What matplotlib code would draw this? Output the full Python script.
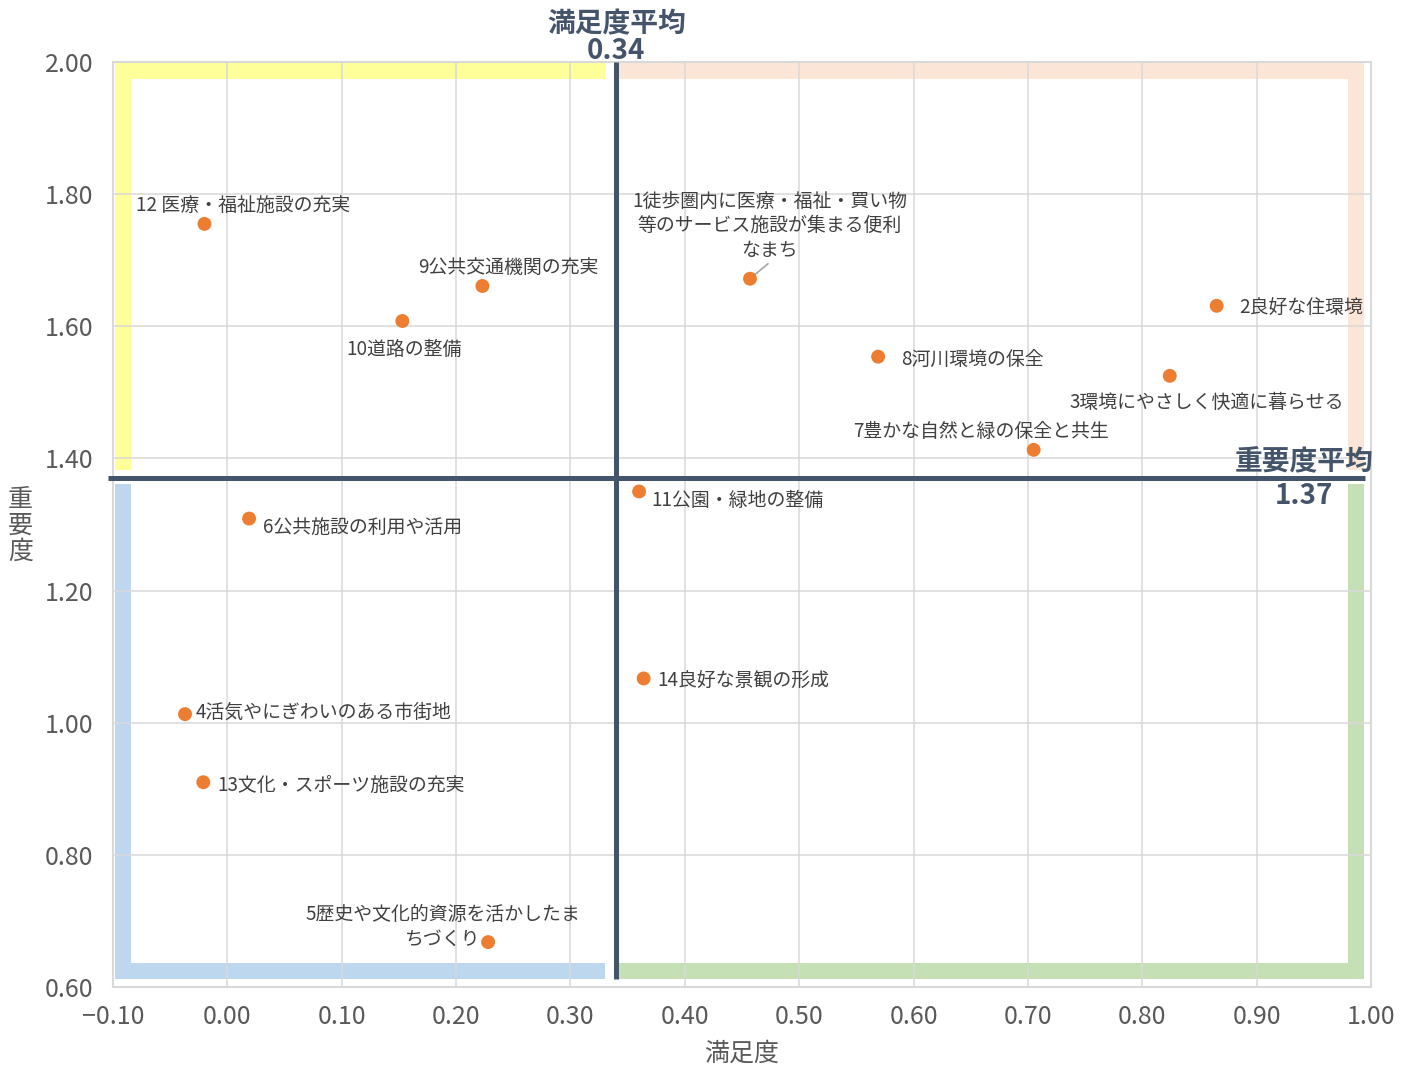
import matplotlib
matplotlib.use('Agg')
import matplotlib.pyplot as plt
from matplotlib.ticker import FuncFormatter, MultipleLocator

plt.rcParams['font.family'] = ['Noto Sans CJK JP', 'DejaVu Sans']

# ---- data ----
labels = [
    '1徒歩圏内に医療・福祉・買い物\n等のサービス施設が集まる便利\nなまち',
    '2良好な住環境',
    '3環境にやさしく快適に暮らせる',
    '4活気やにぎわいのある市街地',
    '5歴史や文化的資源を活かしたま\nちづくり',
    '6公共施設の利用や活用',
    '7豊かな自然と緑の保全と共生',
    '8河川環境の保全',
    '9公共交通機関の充実',
    '10道路の整備',
    '11公園・緑地の整備',
    '12 医療・福祉施設の充実',
    '13文化・スポーツ施設の充実',
    '14良好な景観の形成',
]
satisfaction = [0.457, 0.865, 0.824, -0.037, 0.228, 0.019, 0.705,
                0.569, 0.223, 0.153, 0.360, -0.020, -0.021, 0.364]
importance = [1.672, 1.631, 1.525, 1.013, 0.668, 1.309, 1.413,
              1.554, 1.661, 1.608, 1.350, 1.755, 0.910, 1.067]

avg_sat = 0.34
avg_imp = 1.37

# label placement: offset in pixels from the marker, horizontal alignment
label_pos = [
    (20, 53, 'center'), (23, -3, 'left'), (37, -27, 'center'), (11, 2, 'left'),
    (-45, 15, 'center'), (14, -9, 'left'), (-53, 18, 'center'), (23, -3, 'left'),
    (26, 18, 'center'), (2, -28, 'center'), (12, -9, 'left'), (39, 18, 'center'),
    (14, -3, 'left'), (14, -3, 'left'),
]

# quadrant frames (L-shaped bands along the plot edges)
frame_left, frame_right = -0.091, 0.987
frame_bottom, frame_top = 0.625, 1.986
quad_frames = [
    ('#FFFF99', [frame_left, frame_left, 0.330], [1.383, frame_top, frame_top]),
    ('#FBE5D6', [0.340, frame_right, frame_right], [frame_top, frame_top, 1.383]),
    ('#BDD7EE', [frame_left, frame_left, 0.330], [1.362, frame_bottom, frame_bottom]),
    ('#C5E0B4', [0.340, frame_right, frame_right], [frame_bottom, frame_bottom, 1.362]),
]

# ---- figure ----
fig = plt.figure(figsize=(14.12, 10.65), dpi=100)
ax = fig.add_axes([0.080, 0.0732, 0.891, 0.8686])

ax.set_xlim(-0.1, 1.0)
ax.set_ylim(0.6, 2.0)
ax.xaxis.set_major_locator(MultipleLocator(0.1))
ax.yaxis.set_major_locator(MultipleLocator(0.2))

def fmt(v, pos):
    s = f'{abs(v):.2f}'
    return ('\u2212' + s) if v < -1e-9 else s

ax.xaxis.set_major_formatter(FuncFormatter(fmt))
ax.yaxis.set_major_formatter(FuncFormatter(fmt))
ax.grid(True, color='#D9D9D9', linewidth=1.1)
ax.tick_params(length=0, labelsize=18, labelcolor='#595959')
ax.tick_params(axis='x', pad=12)
ax.tick_params(axis='y', pad=14)
for sp in ax.spines.values():
    sp.set_color('#D9D9D9')
    sp.set_linewidth(1.5)

for color, xs, ys in quad_frames:
    ax.plot(xs, ys, color=color, linewidth=11.5, solid_joinstyle='miter',
            solid_capstyle='butt', zorder=1)

# average lines
ax.plot([avg_sat, avg_sat], [0.612, 2.0], color='#44546A', linewidth=3.6,
        solid_capstyle='butt', zorder=3, clip_on=False)
ax.plot([-0.104, 0.995], [avg_imp, avg_imp], color='#44546A', linewidth=3.6,
        solid_capstyle='butt', zorder=3, clip_on=False)

ax.scatter(satisfaction, importance, s=100, color='#ED7D31', edgecolors='none', zorder=4)

for i, (lab, x, y) in enumerate(zip(labels, satisfaction, importance)):
    dx, dy, ha = label_pos[i]
    ax.annotate(lab, (x, y), xytext=(dx, dy), textcoords='offset pixels',
                ha=ha, va='center', multialignment='center', fontsize=13.6,
                color='#404040', linespacing=1.22, zorder=5)

# leader line for item 1
ax.annotate('', (satisfaction[0], importance[0]), xytext=(18, 15),
            textcoords='offset pixels',
            arrowprops=dict(arrowstyle='-', color='#A6A6A6', lw=1.2,
                            shrinkA=0, shrinkB=0), zorder=3.5)

# average labels
ax.annotate(f'満足度平均\n{avg_sat:.2f}', (avg_sat, 2.0), xytext=(0, -3),
            textcoords='offset pixels', ha='center', va='bottom',
            fontsize=20, fontweight='bold', color='#44546A', linespacing=0.95,
            annotation_clip=False)
ax.annotate(f'重要度平均\n{avg_imp:.2f}', (1.0, avg_imp), xytext=(2, -1),
            textcoords='offset pixels', ha='right', va='center',
            multialignment='center', fontsize=20, fontweight='bold',
            color='#44546A', linespacing=1.25, annotation_clip=False)

ax.set_xlabel('満足度', fontsize=18, color='#595959', labelpad=8)
fig.text(0.0145, 0.506, '重\n要\n度', fontsize=18, color='#595959',
         ha='center', va='center', linespacing=1.0)

fig.savefig('out.png', dpi=100, facecolor='white')
